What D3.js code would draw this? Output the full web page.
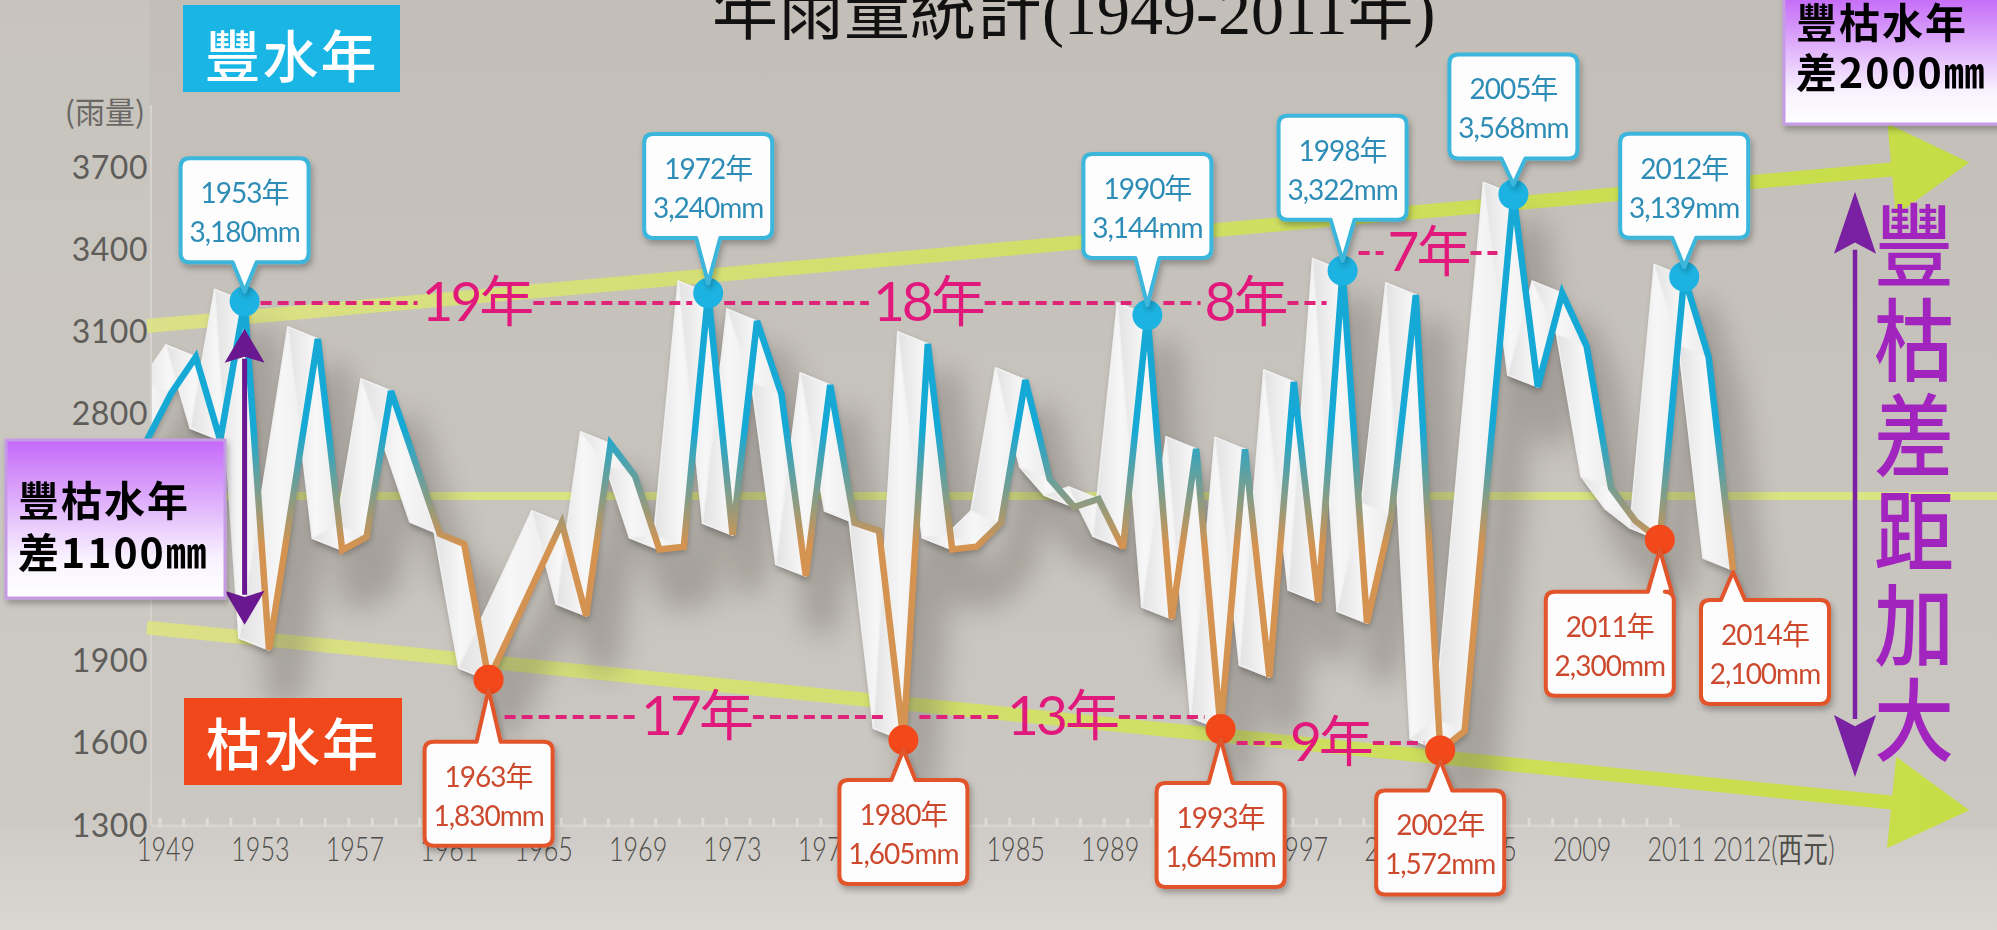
<!DOCTYPE html>
<html>
<head>
<meta charset="utf-8">
<script src="https://cdn.jsdelivr.net/npm/d3@7"></script>
<style>
  html, body { margin: 0; padding: 0; background: #c7c3bd; overflow: hidden; }
  svg { display: block; }
</style>
</head>
<body>
<div id="chart"></div>
<script>
// yearly rainfall line (vertices)
const lineYears = [1949,1950,1951,1952,1953,1954,1956,1957,1958,1959,1961,1962,1963,1966,1967,1968,1969,1970,1971,1972,1973,1974,1975,1976,1977,1978,1979,1980,1981,1982,1983,1984,1985,1986,1987,1988,1989,1990,1991,1992,1993,1994,1995,1996,1997,1998,1999,2000,2001,2002,2003,2005,2006,2007,2008,2009,2010,2011,2012,2013,2014];
const lineValues = [2704,2876,3007,2704,3210,1939,3073,2303,2351,2883,2362,2325,1830,2402,2063,2690,2573,2305,2315,3240,2358,3138,2872,2208,2905,2402,2373,1610,3055,2305,2315,2402,2923,2562,2460,2489,2310,3160,2052,2672,1650,2670,1840,2916,2114,3322,2037,2431,3233,1572,1643,3600,2898,3240,3047,2529,2409,2340,3300,3007,2230];

// wet / dry year callouts
const highYears = [1953, 1972, 1990, 1998, 2005, 2012];
const highAmounts = [3180, 3240, 3144, 3322, 3568, 3139];
const lowYears = [1963, 1980, 1993, 2002, 2011, 2014];
const lowAmounts = [1830, 1605, 1645, 1572, 2300, 2100];

// intervals between extreme years
const intervalFrom = [1953, 1972, 1990, 1998, 1963, 1980, 1993];
const intervalTo = [1972, 1990, 1998, 2005, 1980, 1993, 2002];
const intervalLevel = [3204, 3204, 3204, 3386, 1694, 1694, 1599];

// axes
const yTicks = [3700, 3400, 3100, 2800, 2500, 2200, 1900, 1600, 1300];
const xTickLabels = ["1949","1953","1957","1961","1965","1969","1973","1977","1981","1985","1989","1993","1997","2001","2005","2009","2011","2012"];

// reference lines
const meanValue = 2500;
const upperTrend = [[1949, 3120], [2020.5, 3691]];
const lowerTrend = [[1949, 2020], [2020.5, 1382]];
const spreadSmall = [1953, 3110, 2030];
const spreadLarge = [2019, 3610, 1475];
const verticalWords = ["豐", "枯", "差", "距", "加", "大"];

const W = 1997, H = 930;
const x = d3.scaleLinear().domain([1949, 2014]).range([147, 1733]);
const y = d3.scaleLinear().domain([1300, 3700]).range([825, 167]);
const xTick = d3.scalePoint().domain(xTickLabels).range([166, 1771]);

const svg = d3.select("#chart").append("svg").attr("width", W).attr("height", H);
const defs = svg.append("defs");

function grad(id, x1, y1, x2, y2, stops, user) {
  const g = defs.append("linearGradient").attr("id", id)
    .attr("x1", x1).attr("y1", y1).attr("x2", x2).attr("y2", y2);
  if (user) g.attr("gradientUnits", "userSpaceOnUse");
  stops.forEach(s => g.append("stop").attr("offset", s[0]).attr("stop-color", s[1]).attr("stop-opacity", s[2] == null ? 1 : s[2]));
}
grad("bg", 0, 0, 0, 1, [[0, "#c3beb8"], [0.6, "#c8c4be"], [1, "#ccc8c3"]]);
grad("floor", 0, 0, 0, 1, [[0, "#cfccc7"], [1, "#dad7d2"]]);
grad("lineGrad", 0, 430, 0, 545, [[0, "#16a9d5"], [1, "#d49350"]], true);
grad("trendGrad", 150, 0, 1980, 0, [[0, "#dfe57f", 0.85], [1, "#c5df3e", 0.95]], true);
grad("purpleBox", 0, 0, 0, 1, [[0, "#c468f8"], [0.75, "#f8f2fe"], [1, "#ffffff"]]);
grad("ribbon", 0, 0, 1, 0, [[0, "#e2e2e2"], [0.5, "#f7f7f7"], [1, "#ebebeb"]]);

const blur = defs.append("filter").attr("id", "blur").attr("x", "-20%").attr("y", "-20%").attr("width", "140%").attr("height", "140%");
blur.append("feGaussianBlur").attr("stdDeviation", 14);
const shadow = defs.append("filter").attr("id", "shadow").attr("x", "-20%").attr("y", "-20%").attr("width", "140%").attr("height", "160%");
shadow.append("feDropShadow").attr("dx", 2).attr("dy", 4).attr("stdDeviation", 3).attr("flood-color", "#000").attr("flood-opacity", 0.28);
defs.append("clipPath").attr("id", "plotClip").append("rect")
  .attr("x", 152).attr("y", 0).attr("width", W).attr("height", H);

// background
svg.append("rect").attr("width", W).attr("height", H).attr("fill", "url(#bg)");
svg.append("rect").attr("x", 0).attr("y", 0).attr("width", 150).attr("height", H).attr("fill", "#d2cec9").attr("opacity", 0.35);
svg.append("rect").attr("x", 0).attr("y", 828).attr("width", W).attr("height", H - 828).attr("fill", "url(#floor)");

// axis frame
svg.append("line").attr("x1", 151).attr("x2", 151).attr("y1", 105).attr("y2", 826)
  .attr("stroke", "#d6d3cf").attr("stroke-width", 2);
svg.append("line").attr("x1", 151).attr("x2", 1680).attr("y1", 826).attr("y2", 826)
  .attr("stroke", "#d8d5d0").attr("stroke-width", 3);
svg.append("g").selectAll("line").data(d3.range(0, 65)).join("line")
  .attr("x1", i => 160 + i * xTick.step() / 4).attr("x2", i => 160 + i * xTick.step() / 4)
  .attr("y1", 818).attr("y2", 827).attr("stroke", "#dedbd6").attr("stroke-width", 3);

// y labels
svg.append("g").selectAll("text").data(yTicks).join("text")
  .attr("x", 148).attr("y", d => y(d)).attr("dy", "0.36em")
  .attr("text-anchor", "end").attr("font-family", "Lato, 'Open Sans', sans-serif")
  .attr("font-size", 32).attr("letter-spacing", 0.5).attr("fill", "#5f5d5a").text(d => d);
svg.append("text").attr("x", 105).attr("y", 123).attr("text-anchor", "middle")
  .attr("font-family", "'Noto Sans CJK TC', sans-serif").attr("font-size", 30)
  .attr("fill", "#6a6864").text("(雨量)");

// x labels (narrow face)
const lastTick = xTickLabels.length - 1;
svg.append("g").selectAll("text").data(xTickLabels).join("text")
  .attr("transform", (d, i) => `translate(${i === lastTick ? xTick(d) - 58 : xTick(d)},861) scale(0.74,1)`)
  .attr("text-anchor", (d, i) => i === lastTick ? "start" : "middle")
  .attr("font-family", "Lato, sans-serif").attr("font-weight", 300)
  .attr("font-size", 34).attr("fill", "#4f4d4a")
  .text((d, i) => i === lastTick ? d + "(西元)" : d);

// mean line
svg.append("line").attr("x1", 151).attr("x2", W).attr("y1", y(meanValue)).attr("y2", y(meanValue))
  .attr("stroke", "#dbe87c").attr("stroke-width", 8).attr("opacity", 0.9);

// trend arrows
function trendArrow(tr) {
  const p0 = [x(tr[0][0]), y(tr[0][1])], p1 = [x(tr[1][0]), y(tr[1][1])];
  const ang = Math.atan2(p1[1] - p0[1], p1[0] - p0[0]);
  const ux = Math.cos(ang), uy = Math.sin(ang), nx = -uy, ny = ux;
  const half = 7, head = 46, len = 78;
  const pts = [
    [p0[0] + nx * half, p0[1] + ny * half],
    [p1[0] + nx * half, p1[1] + ny * half],
    [p1[0] + nx * head, p1[1] + ny * head],
    [p1[0] + ux * len, p1[1] + uy * len],
    [p1[0] - nx * head, p1[1] - ny * head],
    [p1[0] - nx * half, p1[1] - ny * half],
    [p0[0] - nx * half, p0[1] - ny * half]
  ];
  svg.append("path").attr("d", d3.line()(pts) + "Z").attr("fill", "url(#trendGrad)");
}
trendArrow(upperTrend);
trendArrow(lowerTrend);

// rainfall line
const pts = lineYears.map((yr, i) => [x(yr), y(lineValues[i])]);
const EXT = [-30, -12];
const plot = svg.append("g").attr("clip-path", "url(#plotClip)");

plot.append("path").attr("d", d3.line()(pts))
  .attr("transform", "translate(16,42)")
  .attr("fill", "none").attr("stroke", "#5c5750").attr("stroke-width", 36)
  .attr("stroke-linejoin", "round").attr("opacity", 0.32).attr("filter", "url(#blur)");

const ribbon = plot.append("g").attr("filter", "url(#shadow)");
ribbon.selectAll("path").data(d3.range(pts.length - 1)).join("path")
  .attr("d", i => {
    const a = pts[i], b = pts[i + 1];
    return d3.line()([a, b, [b[0] + EXT[0], b[1] + EXT[1]], [a[0] + EXT[0], a[1] + EXT[1]]]) + "Z";
  })
  .attr("fill", "url(#ribbon)").attr("stroke", "#f0f0f0").attr("stroke-width", 1.5)
  .attr("stroke-linejoin", "round");

svg.append("path").attr("d", d3.line()(pts))
  .attr("fill", "none").attr("stroke", "url(#lineGrad)").attr("stroke-width", 6.5)
  .attr("stroke-linejoin", "miter").attr("stroke-miterlimit", 3);

// interval markers
const valueAt = yr => lineValues[lineYears.indexOf(yr)];
const ivG = svg.append("g");
intervalFrom.forEach((from, i) => {
  const to = intervalTo[i];
  const yy = y(intervalLevel[i]);
  const xa = x(from) + 16, xb = x(to) - 16;
  const t = ivG.append("text").attr("x", (xa + xb) / 2).attr("y", yy + 18)
    .attr("text-anchor", "middle").attr("font-family", "Lato, 'Noto Sans CJK TC', sans-serif")
    .attr("font-size", 55).attr("letter-spacing", -3).attr("fill", "#e2197c")
    .text((to - from) + "年");
  const tw = t.node().getComputedTextLength();
  [[xa, (xa + xb) / 2 - tw / 2 - 4], [(xa + xb) / 2 + tw / 2 + 2, xb]].forEach(seg => {
    ivG.append("line").attr("x1", seg[0]).attr("x2", seg[1]).attr("y1", yy).attr("y2", yy)
      .attr("stroke", "#de2379").attr("stroke-width", 4).attr("stroke-dasharray", "11 6");
  });
});

// dots
svg.append("g").selectAll("circle").data(highYears).join("circle")
  .attr("cx", d => x(d)).attr("cy", d => y(valueAt(d))).attr("r", 15).attr("fill", "#1cb3e2");
svg.append("g").selectAll("circle").data(lowYears.filter(d => d !== 2014)).join("circle")
  .attr("cx", d => x(d)).attr("cy", d => y(valueAt(d))).attr("r", 15).attr("fill", "#f2481a");

// callouts
function calloutPath(x0, y0, w, h, r, side, bx, tx, ty, b) {
  const x1 = x0 + w, y1 = y0 + h;
  let p = `M${x0 + r},${y0}`;
  if (side === "top") p += `H${bx - b}L${tx},${ty}L${bx + b},${y0}`;
  p += `H${x1 - r}Q${x1},${y0} ${x1},${y0 + r}V${y1 - r}Q${x1},${y1} ${x1 - r},${y1}`;
  if (side === "bottom") p += `H${bx + b}L${tx},${ty}L${bx - b},${y1}`;
  p += `H${x0 + r}Q${x0},${y1} ${x0},${y1 - r}V${y0 + r}Q${x0},${y0} ${x0 + r},${y0}Z`;
  return p;
}
const fmt = d3.format(",");
const boxShift = { 2011: -50, 2014: 32 };
const boxGap = { 1953: 39, 1972: 55, 1990: 57, 1998: 51, 2005: 36, 2012: 39,
                 1963: 62, 1980: 40, 1993: 54, 2002: 40, 2011: 52, 2014: 30 };

function callout(yr, amount, high) {
  const cx = x(yr), cy = y(valueAt(yr));
  const w = 128, h = 104;
  const bx = cx + (boxShift[yr] || 0);
  const x0 = bx - w / 2;
  const gap = boxGap[yr] || 46;
  const y0 = high ? cy - gap - h : cy + gap;
  const tipY = high ? cy - 10 : cy + (yr === 2014 ? 2 : 10);
  const color = high ? "#3cb6dc" : "#e2542c";
  const g = svg.append("g").attr("filter", "url(#shadow)");
  g.append("path").attr("d", calloutPath(x0, y0, w, h, 9, high ? "bottom" : "top", cx, cx, tipY, 12))
    .attr("fill", "#fdfdfd").attr("stroke", color).attr("stroke-width", 4).attr("stroke-linejoin", "round");
  const tc = high ? "#2f8db6" : "#cc4a2f";
  g.append("text").attr("x", bx).attr("y", y0 + 45).attr("text-anchor", "middle")
    .attr("font-family", "Lato, 'Noto Sans CJK TC', sans-serif").attr("font-size", 28)
    .attr("letter-spacing", -1).attr("fill", tc).text(yr + "年");
  g.append("text").attr("x", bx).attr("y", y0 + 84).attr("text-anchor", "middle")
    .attr("font-family", "Lato, sans-serif").attr("font-size", 28)
    .attr("letter-spacing", -1).attr("fill", tc).text(fmt(amount) + "mm");
}
highYears.forEach((yr, i) => callout(yr, highAmounts[i], true));
lowYears.forEach((yr, i) => callout(yr, lowAmounts[i], false));

// spread arrows
function spreadArrow(sp, headW, headL, sw, color) {
  const ax = x(sp[0]), yt = y(sp[1]), yb = y(sp[2]);
  svg.append("line").attr("x1", ax).attr("x2", ax).attr("y1", yt + headL - 4).attr("y2", yb - headL + 4)
    .attr("stroke", color).attr("stroke-width", sw);
  svg.append("path").attr("d", `M${ax},${yt}L${ax + headW / 2},${yt + headL}L${ax},${yt + headL * 0.82}L${ax - headW / 2},${yt + headL}Z`).attr("fill", color);
  svg.append("path").attr("d", `M${ax},${yb}L${ax + headW / 2},${yb - headL}L${ax},${yb - headL * 0.82}L${ax - headW / 2},${yb - headL}Z`).attr("fill", color);
}
spreadArrow(spreadSmall, 40, 34, 5, "#6a1890");
spreadArrow(spreadLarge, 42, 62, 4.5, "#7a20a2");

// vertical caption
svg.append("g").selectAll("text").data(verticalWords).join("text")
  .attr("transform", (d, i) => `translate(1914,${247 + i * 95}) scale(1,1.12)`)
  .attr("text-anchor", "middle").attr("dy", "0.36em")
  .attr("font-family", "'Noto Sans CJK TC', sans-serif").attr("font-size", 80)
  .attr("font-weight", 500).attr("fill", "#a224bf").text(d => d);

// label tags
function tag(x0, y0, w, h, fill, label, baseline) {
  svg.append("rect").attr("x", x0).attr("y", y0).attr("width", w).attr("height", h).attr("fill", fill);
  svg.append("text").attr("x", x0 + w / 2).attr("y", baseline).attr("text-anchor", "middle")
    .attr("font-family", "'Noto Sans CJK TC', sans-serif").attr("font-size", 56).attr("font-weight", 500)
    .attr("letter-spacing", 2).attr("fill", "#fff").text(label);
}
tag(183, 5, 217, 87, "#19b5e5", "豐水年", 77);
tag(184, 698, 218, 87, "#f0481a", "枯水年", 765);

// purple notes
function note(x0, y0, w, h, lines, size, b1, gap) {
  const g = svg.append("g").attr("filter", "url(#shadow)");
  g.append("rect").attr("x", x0).attr("y", y0).attr("width", w).attr("height", h)
    .attr("fill", "url(#purpleBox)").attr("stroke", "#c59be6").attr("stroke-width", 3);
  lines.forEach((t, i) => {
    g.append("text").attr("x", x0 + 12).attr("y", b1 + i * gap)
      .attr("font-family", "'Noto Sans CJK TC', sans-serif").attr("font-weight", 700)
      .attr("font-size", size).attr("letter-spacing", 2).attr("fill", "#000").text(t);
  });
}
note(6, 440, 219, 158, ["豐枯水年", "差1100㎜"], 41, 516, 52);
note(1784, -4, 220, 128, ["豐枯水年", "差2000㎜"], 41, 38, 50);

// title (cropped at the top edge)
svg.append("text").attr("x", 712).attr("y", 34)
  .attr("font-family", "'Liberation Serif', 'Noto Sans CJK TC', serif").attr("font-weight", 400)
  .attr("font-size", 66).attr("fill", "#111").text("年雨量統計(1949-2011年)");
</script>
</body>
</html>
